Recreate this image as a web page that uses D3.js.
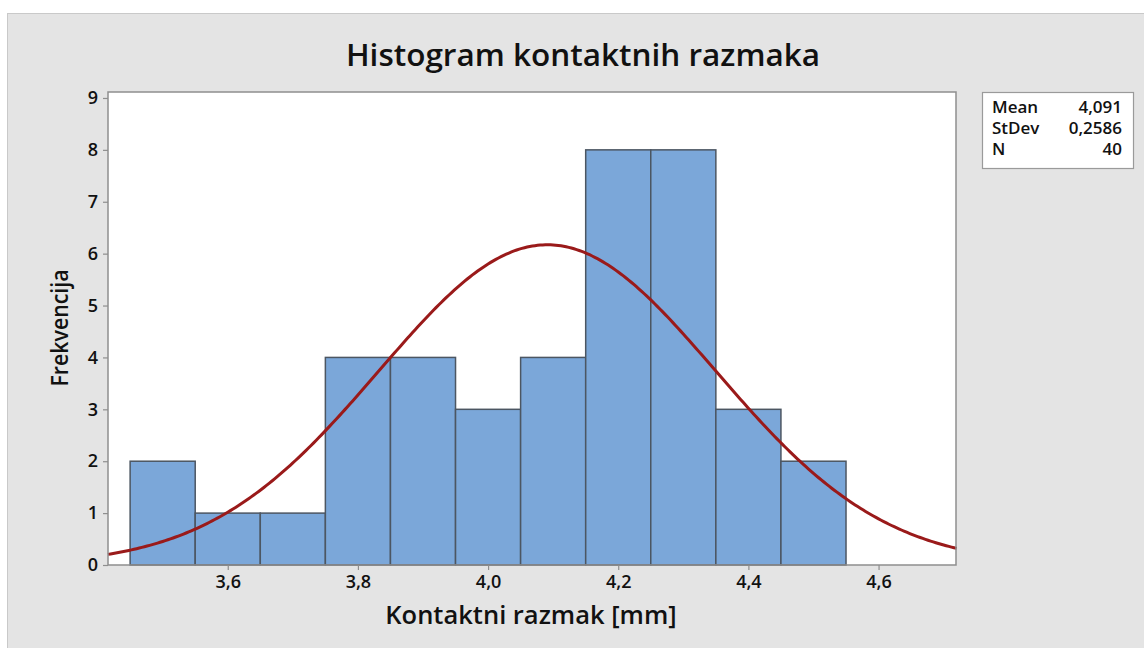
<!DOCTYPE html>
<meta charset="utf-8">
<style>
body { margin: 0; background: #fff; }
svg text { font-family: "Open Sans", "Noto Sans", sans-serif; fill: #111; }
</style>
<svg width="1144" height="648"></svg>
<script src="https://cdn.jsdelivr.net/npm/d3@7/dist/d3.min.js"></script>
<script>

// bins are 0.1 wide, centred on these midpoints
var binMids = [3.5, 3.6, 3.7, 3.8, 3.9, 4.0, 4.1, 4.2, 4.3, 4.4, 4.5]
var binCounts = [2, 1, 1, 4, 4, 3, 4, 8, 8, 3, 2]
var binWidth = 0.1
var xTicks = [3.6, 3.8, 4.0, 4.2, 4.4, 4.6]
var yTicks = [0, 1, 2, 3, 4, 5, 6, 7, 8, 9]
var statLabels = ["Mean", "StDev", "N"]
var statValues = ["4,091", "0,2586", "40"]
var mean = 4.091, stdev = 0.2586, n = 40

var svg = d3.select("svg")

// grey page frame
svg.append("rect")
  .attr("x", 7.5).attr("y", 13.5)
  .attr("width", 1150).attr("height", 660)
  .attr("fill", "#e4e4e4")
  .attr("stroke", "#c9c9c9")

var pLeft = 108, pTop = 92, pRight = 956, pBottom = 565

var x = d3.scaleLinear().domain([3.416, 4.719]).range([pLeft, pRight])
var y = d3.scaleLinear().domain([0, 9.115]).range([pBottom, pTop])

var comma = function(d){ return d3.format(".1f")(d).replace(".", ",") }

svg.append("rect")
  .attr("x", pLeft).attr("y", pTop)
  .attr("width", pRight - pLeft).attr("height", pBottom - pTop)
  .attr("fill", "#fff")

var bins = binMids.map(function(m, i){ return { x0: m - binWidth / 2, x1: m + binWidth / 2, n: binCounts[i] } })

svg.append("g")
  .selectAll("rect")
  .data(bins)
  .enter().append("rect")
    .attr("x", function(d){ return x(d.x0) })
    .attr("y", function(d){ return y(d.n) })
    .attr("width", function(d){ return x(d.x1) - x(d.x0) })
    .attr("height", function(d){ return y(0) - y(d.n) })
    .attr("fill", "#7ba7d9")
    .attr("stroke", "#4c5662")
    .attr("stroke-width", 1.5)

// fitted normal curve scaled to counts
var xs = d3.range(x.domain()[0], x.domain()[1] + 0.001, 0.004)
var curve = xs.map(function(v){
  var z = (v - mean) / stdev
  return [v, n * binWidth * Math.exp(-0.5 * z * z) / (stdev * Math.sqrt(2 * Math.PI))]
})

svg.append("path")
  .datum(curve)
  .attr("fill", "none")
  .attr("stroke", "#9a1a1a")
  .attr("stroke-width", 3)
  .attr("d", d3.line().x(function(d){ return x(d[0]) }).y(function(d){ return y(d[1]) }))

// plot frame
svg.append("rect")
  .attr("x", pLeft).attr("y", pTop)
  .attr("width", pRight - pLeft).attr("height", pBottom - pTop)
  .attr("fill", "none")
  .attr("stroke", "#8e8e8e")
  .attr("stroke-width", 1.5)

var xAxis = svg.append("g")
  .attr("transform", "translate(0," + pBottom + ")")
  .call(d3.axisBottom(x).tickValues(xTicks).tickFormat(comma).tickSize(5).tickPadding(5))
var yAxis = svg.append("g")
  .attr("transform", "translate(" + pLeft + ",0)")
  .call(d3.axisLeft(y).tickValues(yTicks).tickSize(5).tickPadding(5))

;[xAxis, yAxis].forEach(function(a){
  a.select(".domain").remove()
  a.selectAll(".tick line").attr("stroke", "#8e8e8e").attr("stroke-width", 1.2)
  a.selectAll(".tick text")
    .style("font-family", "'Open Sans', sans-serif")
    .style("font-size", "18px")
    .style("font-weight", 600)
    .attr("fill", "#111")
})

svg.append("text")
  .attr("x", 583).attr("y", 66)
  .attr("text-anchor", "middle")
  .style("font-size", "31.5px").style("font-weight", 600)
  .text("Histogram kontaktnih razmaka")

svg.append("text")
  .attr("x", 531).attr("y", 624)
  .attr("text-anchor", "middle")
  .style("font-size", "25.5px").style("font-weight", 600)
  .text("Kontaktni razmak [mm]")

svg.append("text")
  .attr("transform", "translate(68,328) rotate(-90)")
  .attr("text-anchor", "middle")
  .style("font-family", "'Liberation Sans Narrow', 'Open Sans', sans-serif")
  .style("font-size", "24px").style("font-weight", 600)
  .attr("textLength", 117)
  .attr("lengthAdjust", "spacingAndGlyphs")
  .text("Frekvencija")

// stats box
var box = svg.append("g")
box.append("rect")
  .attr("x", 982.5).attr("y", 92.5)
  .attr("width", 151).attr("height", 76)
  .attr("fill", "#fff")
  .attr("stroke", "#9a9a9a")
  .attr("stroke-width", 1.2)

box.selectAll(".lab")
  .data(statLabels)
  .enter().append("text")
    .attr("x", 992)
    .attr("y", function(d, i){ return 113 + i * 21 })
    .style("font-size", "17px").style("font-weight", 600)
    .text(function(d){ return d })

box.selectAll(".val")
  .data(statValues)
  .enter().append("text")
    .attr("x", 1122)
    .attr("y", function(d, i){ return 113 + i * 21 })
    .attr("text-anchor", "end")
    .style("font-size", "17px").style("font-weight", 600)
    .text(function(d){ return d })

</script>
